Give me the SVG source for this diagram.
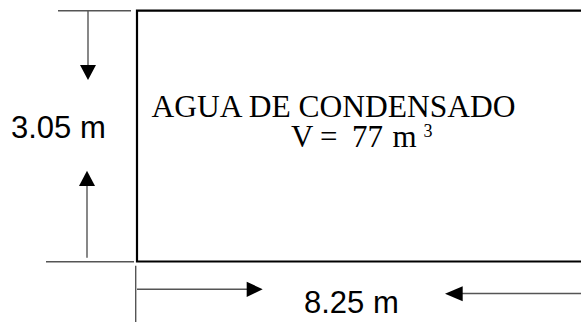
<svg xmlns="http://www.w3.org/2000/svg" width="581" height="322" viewBox="0 0 581 322">
<style>
.dim{stroke:#555;stroke-width:1.4;fill:none}
.head{fill:#000;stroke:none}
.sans{font-family:"Liberation Sans",Arial,sans-serif;font-size:31px;fill:#000}
.serif{font-family:"Liberation Serif","Times New Roman",serif;fill:#000}
</style>
<rect width="581" height="322" fill="#fff"/>
<g id="tank">
<path d="M581 10.7 H137 V261.5 H581" fill="none" stroke="#000" stroke-width="2.2"/>
<text class="serif" x="151.5" y="116.7" font-size="31.5">AGUA DE CONDENSADO</text>
<text class="serif" y="147.3" font-size="31"><tspan x="291">V</tspan><tspan x="320">=</tspan><tspan x="352">77</tspan><tspan x="392.5">m</tspan><tspan x="423.5" y="137" font-size="18">3</tspan></text>
</g>
<g id="connectors">
<line class="dim" x1="58" y1="10.7" x2="131" y2="10.7"/>
<line class="dim" x1="88" y1="10.7" x2="88" y2="66"/>
<polygon class="head" points="80,65 96,65 88,80"/>
<line class="dim" x1="87" y1="185" x2="87" y2="257.7"/>
<polygon class="head" points="79,186 95,186 87,170.7"/>
<line class="dim" x1="46" y1="261.7" x2="134" y2="261.7"/>
<line class="dim" x1="135.7" y1="265.7" x2="135.7" y2="322"/>
<line class="dim" x1="137" y1="289.3" x2="248" y2="289.3"/>
<polygon class="head" points="246.7,281.7 246.7,297 262.7,289.3"/>
<line class="dim" x1="461" y1="293.5" x2="581" y2="293.5"/>
<polygon class="head" points="462.7,286.3 462.7,301.3 445,293.8"/>
</g>
<g id="labels">
<text class="sans" x="11" y="138.3">3.05 m</text>
<text class="sans" x="304" y="313.3">8.25 m</text>
</g>
</svg>
